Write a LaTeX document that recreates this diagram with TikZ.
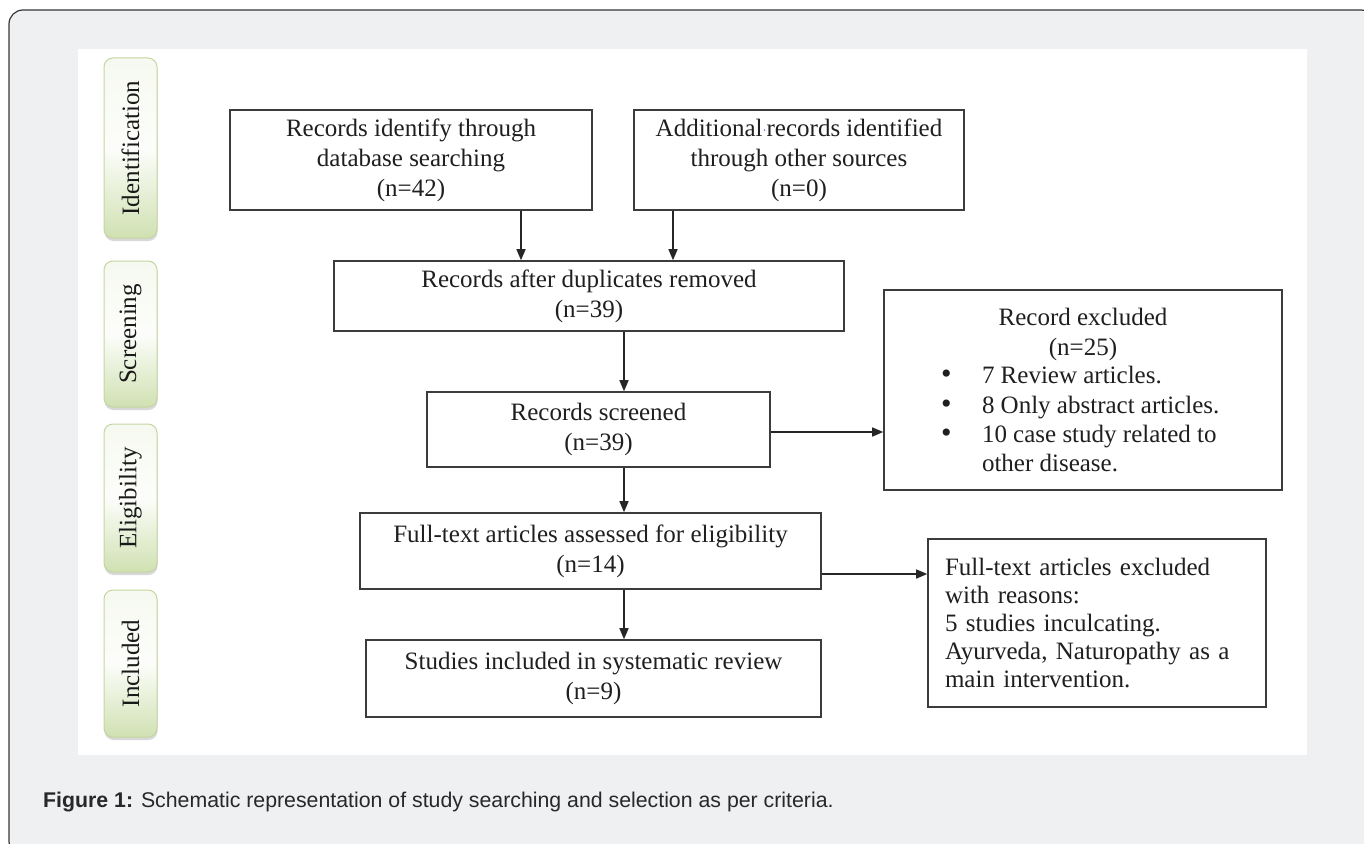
\documentclass[tikz,border=0pt]{standalone}
\usepackage{fontspec}
\setmainfont{Liberation Serif}
\newfontfamily\capfont{Liberation Sans}
\usetikzlibrary{arrows.meta,shadows}
\definecolor{bggray}{RGB}{239,240,242}
\definecolor{framegray}{RGB}{55,55,55}
\definecolor{boxline}{RGB}{60,60,60}
\definecolor{lbltop}{RGB}{246,249,240}
\definecolor{lblgreen}{RGB}{208,225,178}
\definecolor{lblborder}{RGB}{196,214,160}
\definecolor{captext}{RGB}{40,40,40}
\definecolor{wordblue}{RGB}{40,60,230}
\newcommand{\mybullet}{\makebox[41pt][l]{\smash{\scalebox{1.2}{\textbullet}}}}
\begin{document}
\begin{tikzpicture}[x=1pt,y=-1pt,
  box/.style={draw=boxline, line width=1.6pt, inner sep=0pt, align=center,
    font=\fontsize{25}{30}\selectfont, text=black!88},
  arr/.style={draw=black!85, line width=1.4pt, -{Triangle[length=11pt,width=9pt]}},
  lbl/.style={draw=lblborder, line width=1pt, rounded corners=9pt,
    top color=lbltop, bottom color=lblgreen, middle color=white!70!lbltop,
    minimum width=53pt, inner sep=0pt,
    drop shadow={shadow xshift=0.5pt, shadow yshift=-3pt, opacity=0.25, fill=black!60},
    font=\fontsize{25}{30}\selectfont, text=black!90},
]
\useasboundingbox (0,0) rectangle (1364,843);
\begin{scope}
\clip (0,0) rectangle (1364,843);
% outer frame
\draw[rounded corners=14pt, fill=bggray, draw=framegray, line width=1.2pt] (9,10) rectangle (1375,855);
% white panel
\fill[white] (78,49) rectangle (1307,755);
\end{scope}

% stage labels
\node[lbl, minimum height=180pt] (l1) at (130.5,148) {\rotatebox{90}{Identification}};
\node[lbl, minimum height=146pt] (l2) at (130.5,334) {\rotatebox{90}{Screening}};
\node[lbl, minimum height=148pt] (l3) at (130.5,498) {\rotatebox{90}{Eligibility}};
\node[lbl, minimum height=147pt] (l4) at (130.5,663.5) {\rotatebox{90}{Included}};

% boxes
\node[box, minimum width=362pt, minimum height=100pt] (A) at (411,160)
  {Records identify through\\database searching\\(n=42)};
\node[box, minimum width=330pt, minimum height=100pt] (B) at (799,160)
  {Additional\textcolor{wordblue}{\fontsize{12}{12}\selectfont\raisebox{2pt}{·}}records identified\\through other sources\\(n=0)};
\node[box, minimum width=510pt, minimum height=70pt] (C) at (589,296)
  {Records after duplicates removed\\(n=39)};
\node[box, minimum width=343pt, minimum height=75pt] (D) at (598.5,429.5)
  {Records screened\\(n=39)};
\node[box, minimum width=461pt, minimum height=76pt] (E) at (590.5,551)
  {Full-text articles assessed for eligibility\\(n=14)};
\node[box, minimum width=455pt, minimum height=77pt] (F) at (593.5,678.5)
  {Studies included in systematic review\\(n=9)};
\node[box, minimum width=398pt, minimum height=200pt, text width=398pt, align=none,
  font=\fontsize{25}{29}\selectfont] (G) at (1083,390)
  {{\centering Record excluded\\(n=25)\par}
   \noindent\hspace*{57pt}\mybullet 7 Review articles.\par
   \noindent\hspace*{57pt}\mybullet 8 Only abstract articles.\par
   \noindent\hspace*{57pt}\mybullet 10 case study related to\par
   \noindent\hspace*{98pt}other disease.\par};
\node[box, minimum width=338pt, minimum height=168pt, text width=304pt, inner xsep=17pt,
  align=left, font=\fontsize{25}{28}\selectfont] (H) at (1097,623)
  {Full-text articles excluded\\with reasons:\\5 studies inculcating.\\Ayurveda, Naturopathy as a\\main intervention.};

% connector helpers
\coordinate (xa) at (521,0);
\coordinate (xb) at (673,0);
\coordinate (xm) at (624,0);
\coordinate (yd) at (0,432);
\coordinate (ye) at (0,574);

\draw[arr] (A.south -| xa) -- (C.north -| xa);
\draw[arr] (B.south -| xb) -- (C.north -| xb);
\draw[arr] (C.south -| xm) -- (D.north -| xm);
\draw[arr] (D.south -| xm) -- (E.north -| xm);
\draw[arr] (E.south -| xm) -- (F.north -| xm);
\draw[arr] (D.east |- yd) -- (G.west |- yd);
\draw[arr] (E.east |- ye) -- (H.west |- ye);

% caption
\node[anchor=base west, inner sep=0pt, font=\capfont\fontsize{21.3}{25}\selectfont, text=captext] (cap) at (43,807)
  {\textbf{Figure 1:} Schematic representation of study searching and selection as per criteria.};
\end{tikzpicture}
\end{document}
